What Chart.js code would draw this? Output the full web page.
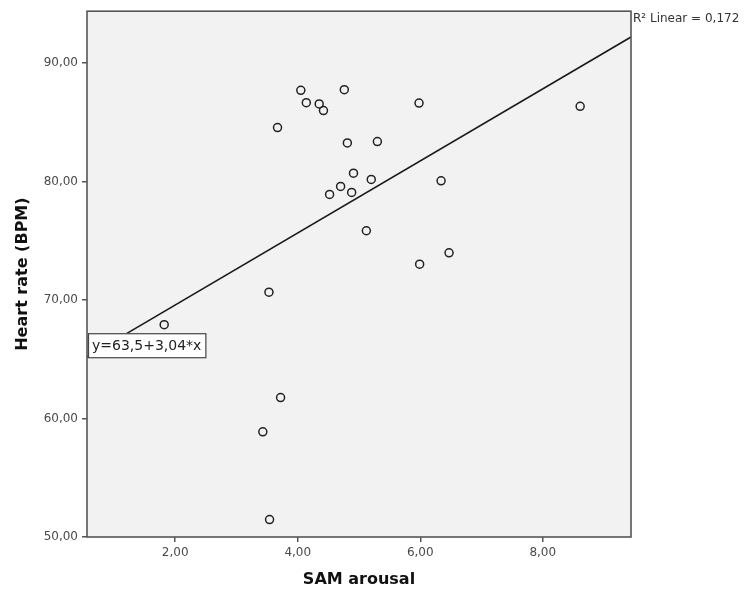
<!DOCTYPE html>
<html>
<head>
<meta charset="utf-8">
<script src="https://cdn.jsdelivr.net/npm/chart.js@4"></script>
<style>
    body { margin: 0; background: #fff; }
    canvas { display: block; }
</style>
</head>
<body>
<canvas id="scatter" width="747" height="591"></canvas>
<script>
// SAM arousal (x) against heart rate (y)
var arousal = [4.05, 4.14, 4.35, 4.42, 3.67, 4.76, 4.81, 5.30, 4.91, 5.20, 4.70, 4.52,
               4.88, 5.12, 3.53, 1.82, 3.72, 3.43, 3.54, 5.98, 8.61, 6.34, 6.47, 5.99];
var heartRate = [87.70, 86.66, 86.55, 85.99, 84.56, 87.76, 83.26, 83.38, 80.71, 80.18, 79.59, 78.91,
                 79.08, 75.85, 70.66, 67.92, 61.77, 58.88, 51.47, 86.63, 86.35, 80.06, 73.99, 73.03];

// fit line y = a + b*x
var intercept = 63.5;
var slope = 3.04;
var rSquared = 0.172;

var xTicks = [2, 4, 6, 8];
var yTicks = [50, 60, 70, 80, 90];
var xRange = [0.56, 9.44];
var yRange = [50, 94.38];

function comma(v, d) {
    return v.toFixed(d).replace('.', ',');
}

var points = arousal.map(function (x, i) {
    return { x: x, y: heartRate[i] };
});
var fitLine = xRange.map(function (x) {
    return { x: x, y: intercept + slope * x };
});

// gray plot area, box, axis titles, equation label
var decor = {
    id: 'decor',
    beforeDatasetsDraw: function (chart) {
        var a = chart.chartArea, ctx = chart.ctx;
        ctx.save();
        ctx.fillStyle = '#f2f2f2';
        ctx.fillRect(a.left, a.top, a.right - a.left, a.bottom - a.top);
        ctx.restore();
    },
    afterDatasetsDraw: function (chart) {
        var a = chart.chartArea, ctx = chart.ctx;
        var ys = chart.scales.y;
        ctx.save();
        ctx.strokeStyle = '#555';
        ctx.lineWidth = 1.6;
        ctx.strokeRect(a.left, a.top, a.right - a.left, a.bottom - a.top);

        // equation box
        var label = 'y=' + comma(intercept, 1) + '+' + comma(slope, 2) + '*x';
        ctx.font = '14px "DejaVu Sans"';
        var w = ctx.measureText(label).width + 8;
        var bx = a.left + 1, by = ys.getPixelForValue(67.2);
        ctx.fillStyle = '#fff';
        ctx.fillRect(bx, by, w, 24);
        ctx.strokeStyle = '#444';
        ctx.lineWidth = 1.2;
        ctx.strokeRect(bx + 0.5, by + 0.5, w, 24);
        ctx.fillStyle = '#222';
        ctx.textBaseline = 'middle';
        ctx.textAlign = 'left';
        ctx.fillText(label, bx + 4, by + 13);

        // R squared note
        ctx.font = '12px "DejaVu Sans"';
        ctx.fillStyle = '#333';
        ctx.fillText('R² Linear = ' + comma(rSquared, 3), a.right + 2, a.top + 8);

        // axis titles
        ctx.font = 'bold 16px "DejaVu Sans"';
        ctx.fillStyle = '#111';
        ctx.textAlign = 'center';
        ctx.fillText('SAM arousal', (a.left + a.right) / 2, 580);
        ctx.translate(23, (a.top + a.bottom) / 2);
        ctx.rotate(-Math.PI / 2);
        ctx.fillText('Heart rate (BPM)', 0, 0);
        ctx.restore();
    }
};

new Chart(document.getElementById('scatter').getContext('2d'), {
    type: 'scatter',
    data: {
        datasets: [{
            data: points,
            pointRadius: 4,
            pointBorderWidth: 1.5,
            borderColor: '#222',
            backgroundColor: 'rgba(0,0,0,0)',
            order: 1
        }, {
            type: 'line',
            data: fitLine,
            borderColor: '#1a1a1a',
            borderWidth: 1.6,
            pointRadius: 0,
            fill: false,
            order: 2
        }]
    },
    options: {
        responsive: false,
        animation: false,
        layout: { padding: { top: 11, right: 116, left: 0, bottom: 0 } },
        plugins: {
            legend: { display: false },
            tooltip: { enabled: false }
        },
        scales: {
            x: {
                type: 'linear',
                min: xRange[0],
                max: xRange[1],
                afterBuildTicks: function (scale) {
                    scale.ticks = xTicks.map(function (v) { return { value: v }; });
                },
                afterFit: function (scale) { scale.height = 54; },
                border: { display: false },
                grid: { drawOnChartArea: false, tickLength: 5, color: '#555', lineWidth: 1.5 },
                ticks: {
                    padding: 4,
                    color: '#4a4a4a',
                    font: { family: 'DejaVu Sans', size: 12 },
                    callback: function (v) { return comma(v, 2); }
                }
            },
            y: {
                type: 'linear',
                min: yRange[0],
                max: yRange[1],
                afterBuildTicks: function (scale) {
                    scale.ticks = yTicks.map(function (v) { return { value: v }; });
                },
                afterFit: function (scale) { scale.width = 87; },
                border: { display: false },
                grid: { drawOnChartArea: false, tickLength: 5, color: '#555', lineWidth: 1.5 },
                ticks: {
                    padding: 4,
                    color: '#4a4a4a',
                    font: { family: 'DejaVu Sans', size: 12 },
                    callback: function (v) { return comma(v, 2); }
                }
            }
        }
    },
    plugins: [decor]
});
</script>
</body>
</html>
